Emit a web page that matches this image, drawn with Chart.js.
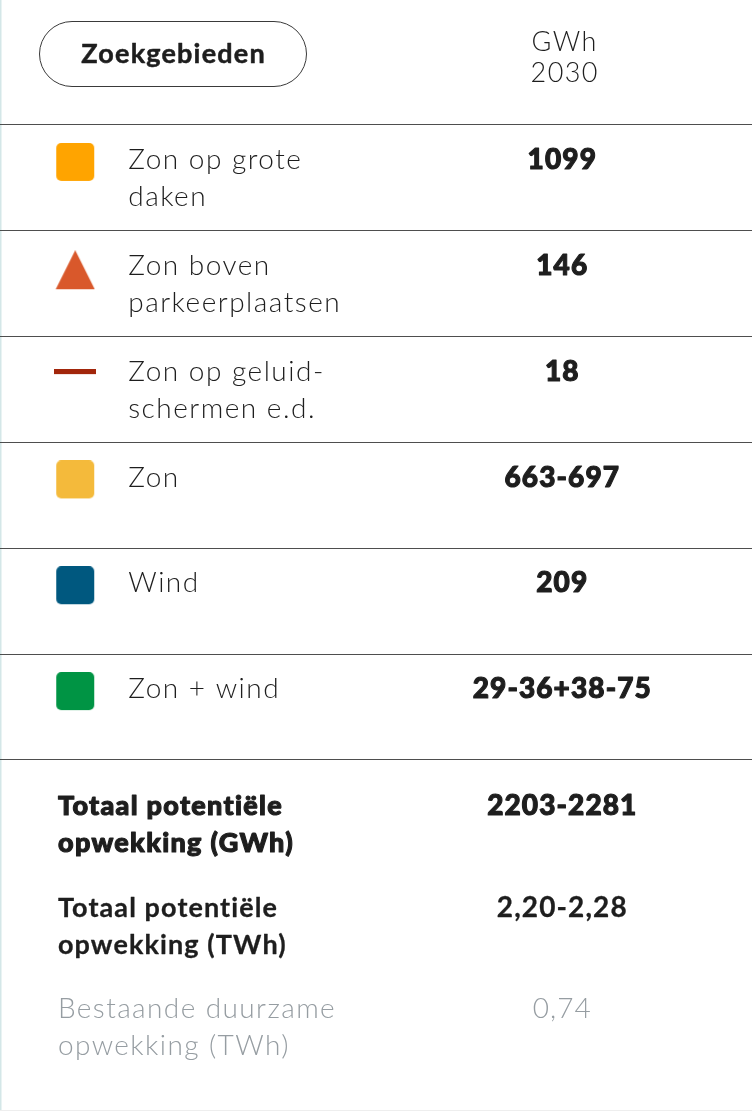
<!DOCTYPE html>
<html>
<head>
<meta charset="utf-8">
<script src="https://cdn.jsdelivr.net/npm/chart.js@4.4.1/dist/chart.umd.min.js"></script>
<style>
  html, body { margin: 0; padding: 0; background: #ffffff; overflow: hidden; }
  #wrap { width: 752px; height: 1111px; position: relative; }
</style>
</head>
<body>
<div id="wrap"><canvas id="c" width="752" height="1111"></canvas></div>
<script>
// ---- data ----
const headerButton = 'Zoekgebieden';
const headerUnit = ['GWh', '2030'];
const rowKeys = ['grote daken', 'parkeerplaatsen', 'geluidschermen', 'zon', 'wind', 'zon + wind'];
const rowLabels = [
  ['Zon op grote', 'daken'],
  ['Zon boven', 'parkeerplaatsen'],
  ['Zon op geluid-', 'schermen e.d.'],
  ['Zon'],
  ['Wind'],
  ['Zon + wind']
];
const rowValues = ['1099', '146', '18', '663-697', '209', '29-36+38-75'];
const markerShapes = ['square', 'triangle', 'line', 'square', 'square', 'square'];
const markerColors = ['#FFA400', '#D9582B', '#A2260B', '#F4BA3B', '#00587F', '#009444'];
const totalLabels = [
  ['Totaal potentiële', 'opwekking (GWh)'],
  ['Totaal potentiële', 'opwekking (TWh)'],
  ['Bestaande duurzame', 'opwekking (TWh)']
];
const totalValues = ['2203-2281', '2,20-2,28', '0,74'];
const columns = ['icon', 'c1', 'c2', 'c3', 'c4'];

// ---- marker images (style only) ----
function makeMarker(shape, color) {
  const cv = document.createElement('canvas');
  const g = cv.getContext('2d');
  if (shape === 'square') {
    const h = 38, d = 16;
    cv.width = 40; cv.height = 2 * (h / 2 + d);
    g.fillStyle = color;
    g.beginPath();
    g.roundRect(1, 0, 38, 38, 5);
    g.fill();
  } else if (shape === 'triangle') {
    const h = 39, d = 14;
    cv.width = 40; cv.height = 2 * (h / 2 + d);
    g.fillStyle = color;
    g.beginPath();
    g.moveTo(20, 0); g.lineTo(39.5, 39); g.lineTo(0.5, 39); g.closePath();
    g.fill();
  } else {
    const h = 5, d = 18;
    cv.width = 42; cv.height = 2 * (h / 2 + d);
    g.fillStyle = color;
    g.fillRect(0, 0, 42, 5);
  }
  return cv;
}
const markerImgs = markerShapes.map((s, i) => makeMarker(s, markerColors[i]));

const FONT = 'Lato, "Open Sans", sans-serif';
function txt(ctx, s, x, y, font, color, align, spacing, stroke) {
  ctx.save();
  ctx.font = font + ' ' + FONT;
  ctx.fillStyle = color;
  ctx.textAlign = align || 'left';
  ctx.textBaseline = 'alphabetic';
  if ('letterSpacing' in ctx) ctx.letterSpacing = (spacing || 0) + 'px';
  let dx = 0;
  if (align === 'center' && spacing) dx = spacing / 2;
  ctx.fillText(s, x + dx, y);
  if (stroke) {
    ctx.strokeStyle = color;
    ctx.lineWidth = stroke;
    ctx.lineJoin = 'round';
    ctx.strokeText(s, x + dx, y);
  }
  ctx.restore();
}

const tablePlugin = {
  id: 'tablePlugin',
  beforeDraw(chart) {
    const ctx = chart.ctx;
    ctx.save();
    ctx.fillStyle = '#ffffff';
    ctx.fillRect(0, 0, chart.width, chart.height);
    ctx.fillStyle = '#d4e7e8';
    ctx.fillRect(0, 0, 1.5, chart.height);
    ctx.fillStyle = '#eeeeee';
    ctx.fillRect(0, chart.height - 1, chart.width, 1);
    ctx.restore();
  },
  afterDraw(chart) {
    const ctx = chart.ctx;
    const area = chart.chartArea;
    const xs = chart.scales.x, ys = chart.scales.y;
    const iconX = xs.getPixelForValue(0);
    const labelX = iconX + 53;
    const valueX = area.left + area.width * 0.747;
    const dark = '#1e1e1e';

    // header
    ctx.save();
    ctx.strokeStyle = '#3a3a3a';
    ctx.lineWidth = 1;
    ctx.beginPath();
    ctx.roundRect(39.5, 21.5, 267, 65, 32.5);
    ctx.stroke();
    ctx.restore();
    txt(ctx, headerButton, 173, 62.5, '700 27px', dark, 'center', 1.2, 0.5);
    txt(ctx, headerUnit[0], 564, 50.5, '300 27px', dark, 'center', 1.4);
    txt(ctx, headerUnit[1], 564, 81.5, '300 27px', dark, 'center', 1.4);

    // rows
    rowLabels.forEach((lines, i) => {
      const cy = ys.getPixelForValue(i);
      const base = cy - 8.8;
      lines.forEach((ln, j) => {
        txt(ctx, ln, labelX, base + j * 37, '300 28px', dark, 'left', 1.5);
      });
      txt(ctx, rowValues[i], valueX, base, '900 28px', dark, 'center', 1.1, 1.1);
    });

    // totals
    const tb = area.bottom;
    const totalBase = [tb + 55, tb + 157, tb + 258];
    const totalFonts = ['900 27px', '700 27px', '300 28px'];
    const totalStroke = [1.1, 0.3, 0];
    const totalSpacing = [1.3, 1.1, 1.4];
    const totalColors = [dark, dark, '#969da2'];
    totalLabels.forEach((lines, i) => {
      lines.forEach((ln, j) => {
        txt(ctx, ln, 58, totalBase[i] + j * 37, totalFonts[i], totalColors[i], 'left', totalSpacing[i], totalStroke[i]);
      });
      txt(ctx, totalValues[i], valueX, totalBase[i], totalFonts[i].replace('27px', '28px'), totalColors[i], 'center', 1.1, totalStroke[i]);
    });
  }
};

new Chart(document.getElementById('c'), {
  type: 'scatter',
  data: {
    datasets: [{
      data: rowKeys.map(k => ({ x: 'icon', y: k })),
      pointStyle: c => markerImgs[c.dataIndex],
      pointRadius: 20,
      pointHoverRadius: 20,
      borderWidth: 0
    }]
  },
  options: {
    responsive: false,
    animation: false,
    events: [],
    layout: { autoPadding: false, padding: { left: 0, right: 0, top: 125, bottom: 351 } },
    plugins: { legend: { display: false }, tooltip: { enabled: false } },
    scales: {
      x: { type: 'category', labels: columns, offset: true, display: false },
      y: {
        type: 'category',
        labels: rowKeys,
        offset: true,
        grid: { offset: true, color: '#4e4e4e', lineWidth: 1, drawTicks: false },
        border: { display: false },
        ticks: { display: false }
      }
    }
  },
  plugins: [tablePlugin]
});
</script>
</body>
</html>
